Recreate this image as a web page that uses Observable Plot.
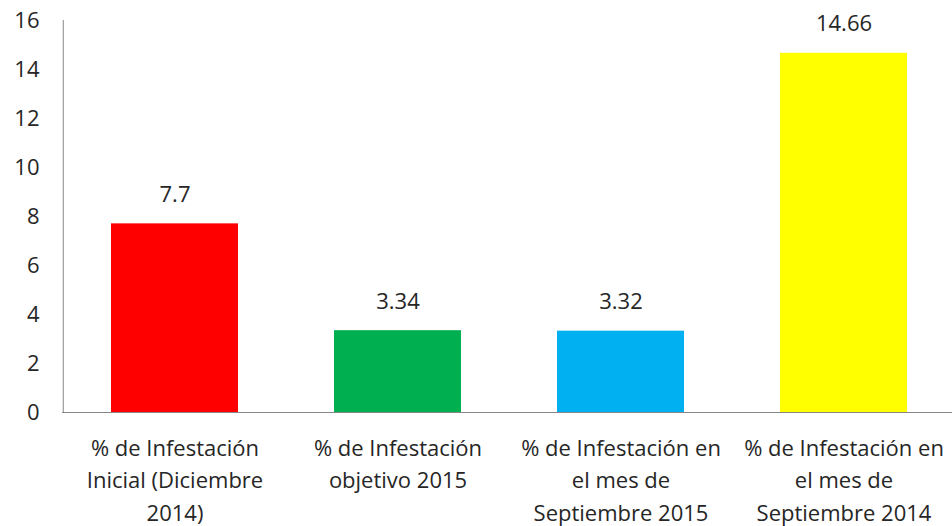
<!DOCTYPE html>
<html>
<head>
<meta charset="utf-8">
<script src="https://cdn.jsdelivr.net/npm/d3@7"></script>
<script src="https://cdn.jsdelivr.net/npm/@observablehq/plot@0.6"></script>
<style>
  body { margin: 0; background: #fff; }
  #chart svg { display: block; }
</style>
</head>
<body>
<div id="chart"></div>
<script>
const categories = [
  "% de Infestación\nInicial (Diciembre\n2014)",
  "% de Infestación\nobjetivo 2015",
  "% de Infestación en\nel mes de\nSeptiembre 2015",
  "% de Infestación en\nel mes de\nSeptiembre 2014"
];
const values = [7.7, 3.34, 3.32, 14.66];
const valueLabels = ["7.7", "3.34", "3.32", "14.66"];
const colors = ["#FF0000", "#00B050", "#00B0F0", "#FFFF00"];
const yTicks = [0, 2, 4, 6, 8, 10, 12, 14, 16];

const data = categories.map((c, i) => ({cat: c, value: values[i], label: valueLabels[i], color: colors[i]}));
const font = "Open Sans, sans-serif";
const textColor = "#262626";

const chart = Plot.plot({
  width: 952,
  height: 526,
  marginTop: 20,
  marginBottom: 114,
  marginLeft: 62,
  marginRight: -4,
  style: {fontFamily: font, background: "#fff"},
  x: {domain: categories, paddingInner: 0.43, paddingOuter: 0.215, axis: null},
  y: {domain: [0, 16], axis: null},
  marks: [
    Plot.barY(data, {x: "cat", y: "value", fill: "color"}),
    Plot.ruleY([0], {stroke: "#868686", strokeWidth: 1}),
    Plot.ruleX([0], {x: () => categories[0], y1: 0, y2: 16, stroke: "#868686", dx: -111.75}),
    Plot.text(yTicks, {x: () => categories[0], y: d => d, text: d => String(d), textAnchor: "end", dx: -135.5, fontSize: 22, fill: textColor}),
    Plot.text(data, {x: "cat", y: "value", text: "label", dy: -29, fontSize: 22, fill: textColor}),
    Plot.text(data, {x: "cat", y: () => 0, text: "cat", lineAnchor: "top", dy: 20, fontSize: 22, lineHeight: 1.48, fill: textColor})
  ]
});
document.getElementById("chart").appendChild(chart);
</script>
</body>
</html>
